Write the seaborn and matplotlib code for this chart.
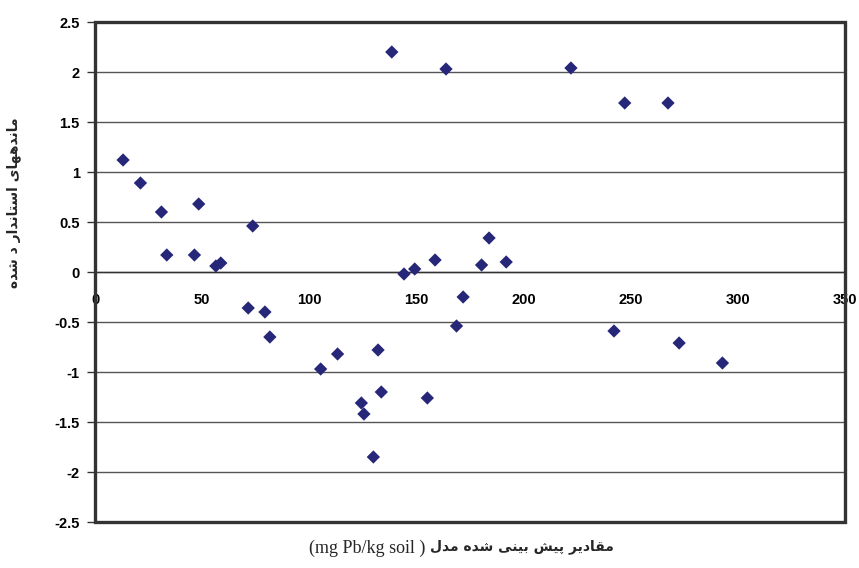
import matplotlib
matplotlib.use("Agg")
import matplotlib.pyplot as plt
import seaborn as sns
import pandas as pd
from matplotlib.patches import Rectangle

# predicted values (mg Pb/kg soil) and standardized residuals
predicted = [13.1, 21.2, 31.0, 33.5, 48.4, 46.4, 56.4, 58.7, 73.6, 71.5,
             79.3, 81.6, 105.3, 113.2, 132.1, 133.6, 124.3, 125.5, 129.9, 138.5,
             163.8, 144.2, 149.2, 158.7, 155.1, 168.7, 171.8, 180.4, 183.9, 191.9,
             222.1, 247.2, 267.4, 242.2, 272.6, 292.8]
residuals = [1.12, 0.89, 0.60, 0.17, 0.68, 0.17, 0.06, 0.09, 0.46, -0.36,
             -0.40, -0.65, -0.97, -0.82, -0.78, -1.20, -1.31, -1.42, -1.85, 2.20,
             2.03, -0.02, 0.03, 0.12, -1.26, -0.54, -0.25, 0.07, 0.34, 0.10,
             2.04, 1.69, 1.69, -0.59, -0.71, -0.91]

x_ticks = [0, 50, 100, 150, 200, 250, 300, 350]
y_ticks = [-2.5, -2, -1.5, -1, -0.5, 0, 0.5, 1, 1.5, 2, 2.5]

ylabel_fa = "ماندههای استاندار د شده"
xlabel_fa = "مقادیر پیش بینی شده مدل"
xlabel_en = "(mg Pb/kg soil )"

# minimal persian shaping (matplotlib has no bidi / joining support)
FORMS = {
    "ا": ("\uFE8D", "\uFE8E", None, None),
    "ب": ("\uFE8F", "\uFE90", "\uFE91", "\uFE92"),
    "پ": ("\uFB56", "\uFB57", "\uFB58", "\uFB59"),
    "ت": ("\uFE95", "\uFE96", "\uFE97", "\uFE98"),
    "د": ("\uFEA9", "\uFEAA", None, None),
    "ر": ("\uFEAD", "\uFEAE", None, None),
    "س": ("\uFEB1", "\uFEB2", "\uFEB3", "\uFEB4"),
    "ش": ("\uFEB5", "\uFEB6", "\uFEB7", "\uFEB8"),
    "ق": ("\uFED5", "\uFED6", "\uFED7", "\uFED8"),
    "ل": ("\uFEDD", "\uFEDE", "\uFEDF", "\uFEE0"),
    "م": ("\uFEE1", "\uFEE2", "\uFEE3", "\uFEE4"),
    "ن": ("\uFEE5", "\uFEE6", "\uFEE7", "\uFEE8"),
    "ه": ("\uFEE9", "\uFEEA", "\uFEEB", "\uFEEC"),
    "ی": ("\uFEEF", "\uFEF0", "\uFEF3", "\uFEF4"),
}


def shape(text):
    out = []
    for i, ch in enumerate(text):
        if ch not in FORMS:
            out.append(ch)
            continue
        prev = text[i - 1] if i > 0 else None
        nxt = text[i + 1] if i < len(text) - 1 else None
        join_prev = prev in FORMS and FORMS[prev][2] is not None
        join_next = nxt in FORMS and FORMS[ch][2] is not None
        iso, fin, ini, med = FORMS[ch]
        if join_prev and join_next:
            out.append(med)
        elif join_prev:
            out.append(fin)
        elif join_next:
            out.append(ini)
        else:
            out.append(iso)
    return "".join(reversed(out))


df = pd.DataFrame({"predicted": predicted, "residual": residuals})

sns.set_theme(style="white")
plt.rcParams["font.family"] = ["Liberation Sans", "DejaVu Sans"]

fig = plt.figure(figsize=(8.59, 5.68), dpi=100)
ax = fig.add_axes([95 / 859, 46 / 568, 750 / 859, 500 / 568])

for y in y_ticks[1:-1]:
    ax.axhline(y, color="#555555", lw=1.0, zorder=1)

sns.scatterplot(data=df, x="predicted", y="residual", marker="D", s=46,
                color="#27277a", edgecolor="none", linewidth=0, ax=ax, zorder=3)

ax.set_xlim(0, 350)
ax.set_ylim(-2.5, 2.5)
ax.set_xticks(x_ticks)
ax.set_yticks(y_ticks)
ax.set_xticklabels([str(v) for v in x_ticks])
ax.set_yticklabels([f"{v:g}" for v in y_ticks])

for side in ["top", "right", "left"]:
    ax.spines[side].set_visible(False)
ax.spines["bottom"].set_position(("data", 0))
ax.spines["bottom"].set_color("#333333")
ax.spines["bottom"].set_linewidth(1.0)
ax.spines["bottom"].set_zorder(1)

ax.tick_params(axis="x", direction="out", length=5, width=1, color="#333333",
               pad=10, labelcolor="black", labelsize=10.5)
ax.tick_params(axis="y", direction="out", length=6, width=1, color="#333333",
               pad=5, labelcolor="black", left=True, labelsize=10.5)
plt.setp(ax.get_xticklabels() + ax.get_yticklabels(), fontweight="bold")

frame = Rectangle((0, 0), 1, 1, transform=ax.transAxes, fill=False,
                  edgecolor="#333333", lw=2.4, zorder=2, clip_on=False)
ax.add_patch(frame)

ax.set_xlabel("")
ax.set_ylabel(shape(ylabel_fa), fontsize=10, fontweight="bold",
              family=["DejaVu Sans"])
ax.yaxis.set_label_coords(-0.098, 0.638)

fig.text(425 / 859, 1 - 548 / 568, xlabel_en, ha="right", va="center",
         fontsize=13, family=["Liberation Serif"])
fig.text(430 / 859, 1 - 547 / 568, shape(xlabel_fa), ha="left", va="center",
         fontsize=10, fontweight="bold", family=["DejaVu Sans"])

fig.savefig("out.png", dpi=100)
